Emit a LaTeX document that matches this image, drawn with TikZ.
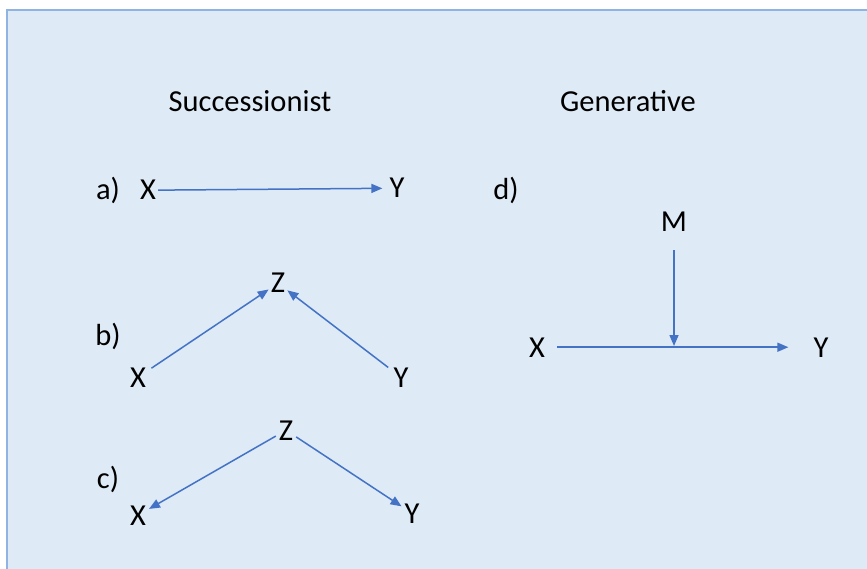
\documentclass[tikz,border=0pt]{standalone}
\usepackage{fontspec}
\setmainfont{Carlito}
\usetikzlibrary{arrows.meta}
\definecolor{panelfill}{RGB}{222,234,246}
\definecolor{panelline}{RGB}{143,180,227}
\definecolor{arrowblue}{RGB}{68,114,196}

\begin{document}
\begin{tikzpicture}[x=1pt, y=-1pt, every node/.style={font=\fontsize{30.5}{36}\selectfont, inner sep=2pt, anchor=base},
	link/.style={draw=arrowblue, line width=1.5pt, -{Triangle[length=11pt,width=9pt]}}]
	\useasboundingbox (0,0) rectangle (867,569);
	\fill[white] (0,0) rectangle (867,569);
	\fill[panelfill] (7,10) rectangle (867,569);
	\draw[panelline, line width=1.2pt] (7,569) -- (7,10) -- (867,10);

	% headings
	\node (succ) at (250,112) {Successionist};
	\node (gen) at (628,112) {Generative};

	% a) chain
	\node (la) at (108,200) {a)};
	\node (xa) at (148,200) {X};
	\node (ya) at (397,198) {Y};
	\draw[link, shorten >=5pt] (xa) -- (ya);

	% b) common effect
	\node (lb) at (108,345) {b)};
	\node (zb) at (278,293) {Z};
	\node (xb) at (138,387) {X};
	\node (yb) at (401,387) {Y};
	\draw[link, shorten <=4pt] (xb) -- (zb);
	\draw[link, shorten <=4pt] (yb) -- (zb);

	% c) common cause
	\node (lc) at (108,488) {c)};
	\node (zc) at (286,440) {Z};
	\node (xc) at (138,525) {X};
	\node (yc) at (412,523) {Y};
	\draw[link, shorten <=1pt, shorten >=1pt] (zc) -- (xc);
	\draw[link, shorten <=1pt, shorten >=1pt] (zc) -- (yc);

	% d) mechanism
	\node (ld) at (506,200) {d)};
	\node (m) at (674,232) {M};
	\node (xd) at (537,357) {X};
	\node (yd) at (821,357) {Y};
	\coordinate (j) at (m |- 0,346);
	\draw[link, shorten <=10pt, shorten >=23pt] (xd) -- (yd);
	\draw[link, shorten <=16pt] (m) -- (j);
\end{tikzpicture}
\end{document}
